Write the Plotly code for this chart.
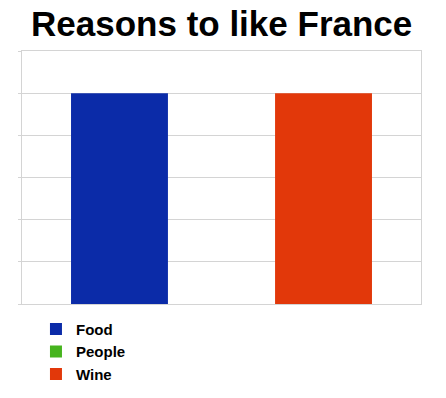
import plotly.graph_objects as go

categories = ["France"]
series_names = ["Food", "People", "Wine"]
series_values = [[5], [0], [5]]
series_colors = ["#0b2ba8", "#46b41e", "#e2380a"]

fig = go.Figure()
for name, vals, col in zip(series_names, series_values, series_colors):
    fig.add_trace(go.Bar(name="<b>" + name + "</b>", x=categories, y=vals,
                         marker=dict(color=col, line=dict(width=0))))

fig.update_layout(
    width=446, height=398,
    margin=dict(l=22, r=25, t=51, b=94, autoexpand=False),
    paper_bgcolor="white", plot_bgcolor="white",
    barmode="group", bargap=0.233, bargroupgap=0.05,
    title=dict(text="<b>Reasons to like France</b>", x=0.497, xanchor="center",
               y=0.972, yanchor="top", yref="container",
               font=dict(family="Liberation Sans Narrow, Liberation Sans, Arial", size=35, color="black")),
    showlegend=True,
    legend=dict(x=0.035, xanchor="left", y=-0.035, yanchor="top", orientation="v",
                font=dict(family="Liberation Sans, Arial", size=15, color="black"),
                bgcolor="rgba(0,0,0,0)", traceorder="normal"),
    font=dict(family="Liberation Sans, Arial"),
)
fig.update_xaxes(showticklabels=False, showline=True, linecolor="#d4d4d4", linewidth=1,
                 mirror=True, ticks="", showgrid=False, range=[-0.5, 0.5])
fig.update_yaxes(range=[0, 6], dtick=1, showticklabels=False, showgrid=True, gridcolor="#d4d4d4",
                 gridwidth=1, ticks="outside", ticklen=3, tickcolor="#d4d4d4", showline=True,
                 linecolor="#d4d4d4", mirror=True, zeroline=False)

fig.write_html("out.html")
